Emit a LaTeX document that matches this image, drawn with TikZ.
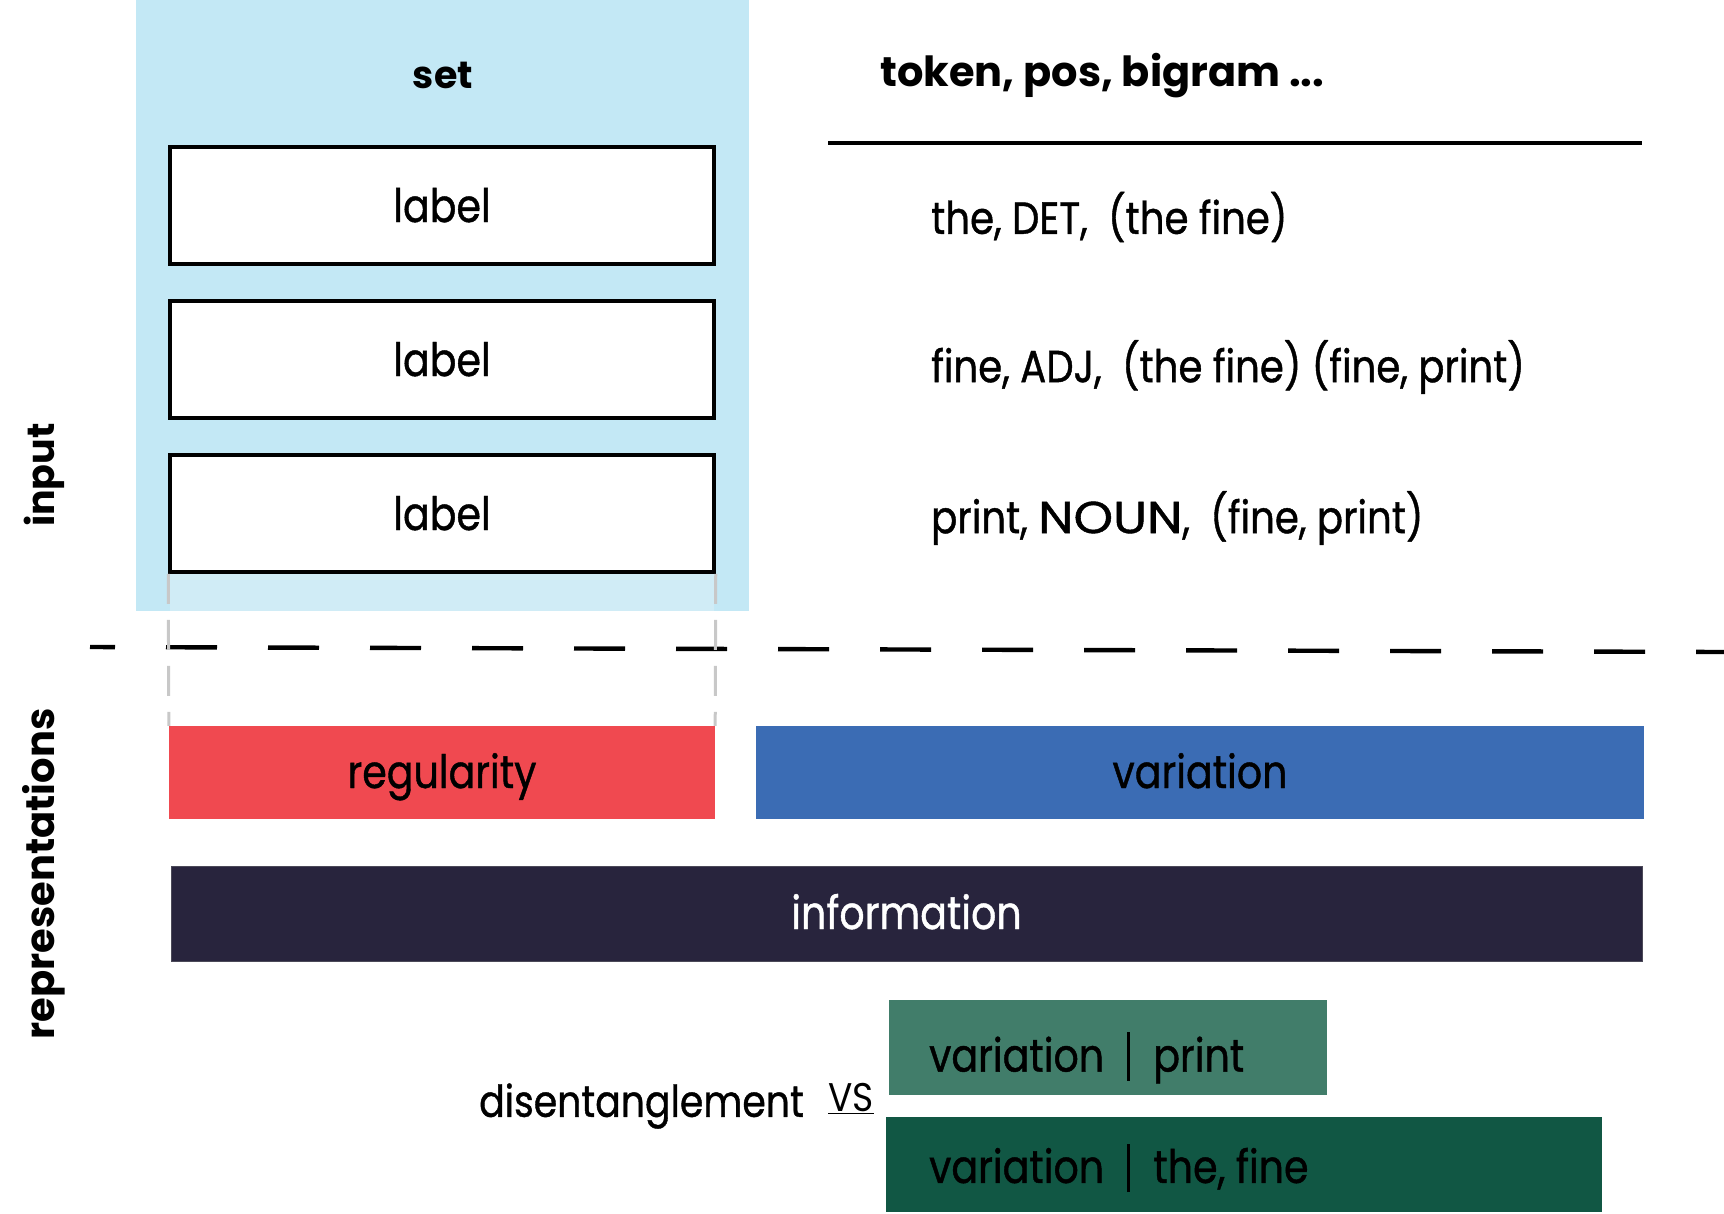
\documentclass[tikz,border=0pt]{standalone}
\usepackage{fontspec}
\setmainfont{Poppins}[FakeStretch=0.86, FakeBold=0.9]
\newfontfamily\headfont{Poppins}
\newfontfamily\thinfont{Poppins}[FakeStretch=0.9]
\definecolor{panelblue}{HTML}{C3E8F5}
\definecolor{striplight}{HTML}{D0ECF6}
\definecolor{regred}{HTML}{F04950}
\definecolor{varblue}{HTML}{3B6CB4}
\definecolor{infodark}{HTML}{28243D}
\definecolor{greenA}{HTML}{417D6A}
\definecolor{greenB}{HTML}{115744}
\definecolor{guidegray}{HTML}{C8C8C8}
\newcommand{\vbar}{\hspace{0.5em}\rule[-0.2em]{3.2pt}{1.05em}\hspace{0.5em}}
\begin{document}
\begin{tikzpicture}[x=1pt,y=-1pt,
  txt/.style={font=\fontsize{45}{54}\selectfont, inner sep=0pt},
  boldtxt/.style={font=\headfont\bfseries\fontsize{38}{46}\selectfont, inner sep=0pt},
  labelbox/.style={draw=black, line width=3.5pt, fill=white, minimum width=544pt, minimum height=117pt, inner sep=0pt, font=\fontsize{46}{54}\selectfont, text height=34pt, text depth=1pt},
  bar/.style={inner sep=0pt, minimum height=93pt, font=\fontsize{46}{54}\selectfont, text height=34pt, text depth=3pt},
  guide/.style={draw=guidegray, line width=3pt, dash pattern=on 30pt off 16pt}]
\useasboundingbox (0,0) rectangle (1724,1213);
% panel
\node[fill=panelblue, minimum width=613pt, minimum height=611pt, inner sep=0pt] (panel) at (442.5,305.5) {};
\node[fill=striplight, minimum width=544pt, minimum height=39pt, inner sep=0pt] (strip) at (442,591.5) {};
\node[boldtxt] (set) at (443,75) {set};
\node[labelbox] (l1) at (442,205.5) {label};
\node[labelbox] (l2) at (442,359.5) {label};
\node[labelbox] (l3) at (442,513.5) {label};
% right header
\node[boldtxt, anchor=west, font=\headfont\bfseries\fontsize{41.5}{48}\selectfont] (tok) at (880,76) {token, pos, bigram ...};
\coordinate (hl) at (828,143);
\coordinate (hr) at (1642,143);
\draw[line width=3.5pt] (hl) -- (hr);
\node[txt, anchor=west] (r1) at (931,217) {the, DET,\hspace{0.45em}(the fine)};
\node[txt, anchor=west] (r2) at (931,367) {fine, ADJ,\hspace{0.45em}(the fine) (fine, print)};
\node[txt, anchor=west] (r3) at (931,518) {print, \scalebox{1.3}[1]{NOUN},\hspace{0.45em}(fine, print)};
% side labels
\node[boldtxt, rotate=90] (input) at (44,475) {input};
\node[boldtxt, rotate=90, font=\headfont\bfseries\fontsize{40}{46}\selectfont] (repr) at (44,874) {representations};
% dashed separator
\coordinate (dl) at (90,647);
\coordinate (dr) at (1724,652);
\draw[line width=4.4pt, dash pattern=on 51pt off 51pt, dash phase=26pt] (dl) -- (dr);
% bars
\node[bar, fill=regred, minimum width=546pt] (reg) at (442,772.5) {regularity};
\node[bar, fill=varblue, minimum width=888pt] (var) at (1200,772.5) {variation};
\node[bar, fill=infodark, draw=infodark!60!gray, line width=1pt, minimum width=1471pt, minimum height=95pt, text=white] (info) at (906.5,913.5) {information};
\node[bar, fill=greenA, minimum width=438pt, minimum height=95pt] (g1) at (1108,1047.5) {};
\node[bar, fill=greenB, minimum width=716pt, minimum height=95pt] (g2) at (1244,1164.5) {};
\node[txt, anchor=west, font=\fontsize{46}{54}\selectfont] (g1t) at (929,1058) {variation\vbar print};
\node[txt, anchor=west, font=\fontsize{46}{54}\selectfont] (g2t) at (929,1168) {variation\vbar the, fine};
\node[txt, anchor=east, font=\fontsize{44}{52}\selectfont] (dis) at (804,1106) {disentanglement};
\node[inner sep=0pt, font=\thinfont\fontsize{40}{46}\selectfont] (vs) at (851,1099) {\underline{VS}};
% guides
\draw[guide] (l3.south west) -- (reg.north west);
\draw[guide] (l3.south east) -- (reg.north east);
\end{tikzpicture}
\end{document}
